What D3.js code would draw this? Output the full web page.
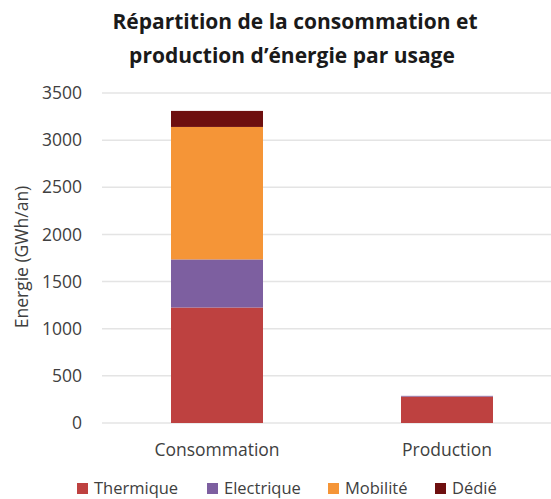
<!DOCTYPE html>
<html>
<head>
<meta charset="utf-8">
<script src="https://d3js.org/d3.v7.min.js"></script>
<style>
  body { margin: 0; background: #fff; }
  text { font-family: "Open Sans", sans-serif; fill: #404040; }
</style>
</head>
<body>
<div id="chart"></div>
<script>
// data (GWh/an)
var categories = ["Consommation", "Production"];
var series = ["Thermique", "Electrique", "Mobilité", "Dédié"];
var thermique = [1225, 280];
var electrique = [510, 8];
var mobilite = [1405, 0];
var dedie = [170, 0];
var yTicks = [0, 500, 1000, 1500, 2000, 2500, 3000, 3500];
var colors = ["#be4140", "#7d5fa0", "#f59537", "#6e0f0f"];

var width = 551, height = 499;
var margin = {top: 93, right: -11, bottom: 76, left: 102};

var svg = d3.select("#chart").append("svg")
    .attr("width", width)
    .attr("height", height);

var rows = categories.map(function(c, i) {
  return {cat: c, "Thermique": thermique[i], "Electrique": electrique[i],
          "Mobilité": mobilite[i], "Dédié": dedie[i]};
});

var x = d3.scaleBand()
    .domain(categories)
    .range([margin.left, width - margin.right])
    .paddingInner(0.6)
    .paddingOuter(0.3);

var y = d3.scaleLinear()
    .domain([0, 3500])
    .range([height - margin.bottom, margin.top]);

// gridlines
svg.append("g")
  .selectAll("line")
  .data(yTicks)
  .enter().append("line")
    .attr("x1", margin.left)
    .attr("x2", width)
    .attr("y1", function(d) { return y(d); })
    .attr("y2", function(d) { return y(d); })
    .attr("stroke", "#e4e4e4")
    .attr("stroke-width", 1.5);

// y tick labels
svg.append("g")
  .selectAll("text")
  .data(yTicks)
  .enter().append("text")
    .attr("x", 82)
    .attr("y", function(d) { return y(d); })
    .attr("dy", "0.35em")
    .attr("text-anchor", "end")
    .style("font-size", "17.5px")
    .text(function(d) { return d; });

var stack = d3.stack().keys(series);
var layers = stack(rows);

svg.append("g")
  .selectAll("g")
  .data(layers)
  .enter().append("g")
    .attr("fill", function(d, i) { return colors[i]; })
  .selectAll("rect")
  .data(function(d) { return d; })
  .enter().append("rect")
    .attr("x", function(d) { return x(d.data.cat); })
    .attr("width", x.bandwidth())
    .attr("y", function(d) { return y(d[1]); })
    .attr("height", function(d) { return y(d[0]) - y(d[1]); });

// category labels
svg.append("g")
  .selectAll("text")
  .data(categories)
  .enter().append("text")
    .attr("x", function(d) { return x(d) + x.bandwidth() / 2; })
    .attr("y", 450)
    .attr("dy", "0.35em")
    .attr("text-anchor", "middle")
    .style("font-size", "17.5px")
    .text(function(d) { return d; });

// axis title
svg.append("text")
    .attr("transform", "translate(22,257) rotate(-90)")
    .attr("dy", "0.35em")
    .attr("text-anchor", "middle")
    .style("font-size", "17.5px")
    .text("Energie (GWh/an)");

// title
var title = svg.append("text")
    .attr("text-anchor", "middle")
    .style("font-size", "21px")
    .style("font-weight", "bold")
    .style("fill", "#1a1a1a");
title.append("tspan").attr("x", 295).attr("y", 29).text("Répartition de la consommation et");
title.append("tspan").attr("x", 292).attr("y", 63).text("production d’énergie par usage");

// legend
var legendX = [77, 207, 328, 435];
var legend = svg.append("g")
  .selectAll("g")
  .data(series)
  .enter().append("g")
    .attr("transform", function(d, i) { return "translate(" + legendX[i] + ",488)"; });
legend.append("rect")
    .attr("x", 0).attr("y", -5)
    .attr("width", 11).attr("height", 11)
    .attr("fill", function(d, i) { return colors[i]; });
legend.append("text")
    .attr("x", 17)
    .attr("dy", "0.35em")
    .style("font-size", "16.5px")
    .text(function(d) { return d; });
</script>
</body>
</html>
